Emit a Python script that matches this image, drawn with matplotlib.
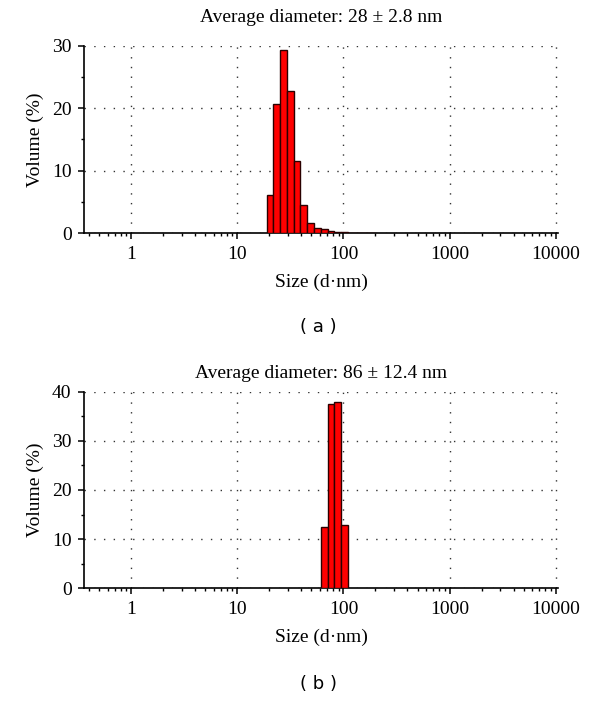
import matplotlib
matplotlib.use("Agg")
import matplotlib.pyplot as plt
from matplotlib.ticker import LogLocator, MultipleLocator, FixedLocator, NullFormatter

# bin edges (nm), shared size classes
edges_a = [18.9, 21.9, 25.3, 29.3, 34.0, 39.3, 45.6, 52.8, 61.1, 70.8,
           82.0, 95.0, 110.0, 127.0, 148.0, 171.0, 198.0]
volume_a = [6.1, 20.6, 29.3, 22.8, 11.6, 4.5, 1.7, 0.85, 0.65, 0.43,
            0.27, 0.16, 0.1, 0.07, 0.05, 0.03]

edges_b = [61.1, 70.8, 82.0, 95.0, 110.0]
volume_b = [12.4, 37.4, 37.9, 12.8]

titles = ["Average diameter: 28 \u00b1 2.8 nm", "Average diameter: 86 \u00b1 12.4 nm"]
panel_tags = ["( a )", "( b )"]
y_max = [30, 40]
x_ticks = [1, 10, 100, 1000, 10000]
x_tick_labels = ["1", "10", "100", "1000", "10000"]

serif = "Liberation Serif"
fs = 14

fig = plt.figure(figsize=(6.0, 7.01), dpi=100)

# axes boxes in figure fractions
boxes = [[0.14, 0.6672, 0.79, 0.2676], [0.14, 0.1608, 0.79, 0.2805]]
title_pad = [17, 10]
tag_y = [1 - 327 / 701, 1 - 684 / 701]

panels = [(edges_a, volume_a), (edges_b, volume_b)]

for i, (edges, vols) in enumerate(panels):
    ax = fig.add_axes(boxes[i])
    lefts = edges[:-1]
    widths = [edges[k + 1] - edges[k] for k in range(len(vols))]
    ax.bar(lefts, vols, width=widths, align="edge", color="#ff0000",
           edgecolor="#2a0000", linewidth=1.0, zorder=3)

    ax.set_xscale("log")
    ax.set_xlim(0.36, 10500)
    ax.set_ylim(0, y_max[i])

    ax.xaxis.set_major_locator(FixedLocator(x_ticks))
    ax.set_xticklabels(x_tick_labels)
    ax.xaxis.set_minor_locator(LogLocator(base=10, subs=range(2, 10), numticks=20))
    ax.xaxis.set_minor_formatter(NullFormatter())
    ax.yaxis.set_major_locator(MultipleLocator(10))
    ax.yaxis.set_minor_locator(MultipleLocator(5))

    for side in ["top", "right"]:
        ax.spines[side].set_visible(False)
    for side in ["left", "bottom"]:
        ax.spines[side].set_linewidth(1.2)

    ax.tick_params(which="major", direction="out", length=4, width=1.1,
                   labelsize=fs, pad=5)
    ax.tick_params(which="minor", direction="out", length=2.5, width=1.0)
    for lab in ax.get_xticklabels() + ax.get_yticklabels():
        lab.set_fontfamily(serif)

    ax.grid(True, which="major", color="#333333", linestyle=(0, (1, 6)),
            linewidth=1.0, zorder=0)

    ax.set_title(titles[i], fontsize=fs, fontfamily=serif, pad=title_pad[i])
    ax.set_xlabel("Size (d\u00b7nm)", fontsize=fs, fontfamily=serif, labelpad=8)
    ax.set_ylabel("Volume (%)", fontsize=fs, fontfamily=serif, labelpad=6)

    fig.text(0.53, tag_y[i], panel_tags[i], ha="center", va="center",
             fontsize=13, fontfamily="DejaVu Sans")

fig.savefig("out.png", dpi=100)
